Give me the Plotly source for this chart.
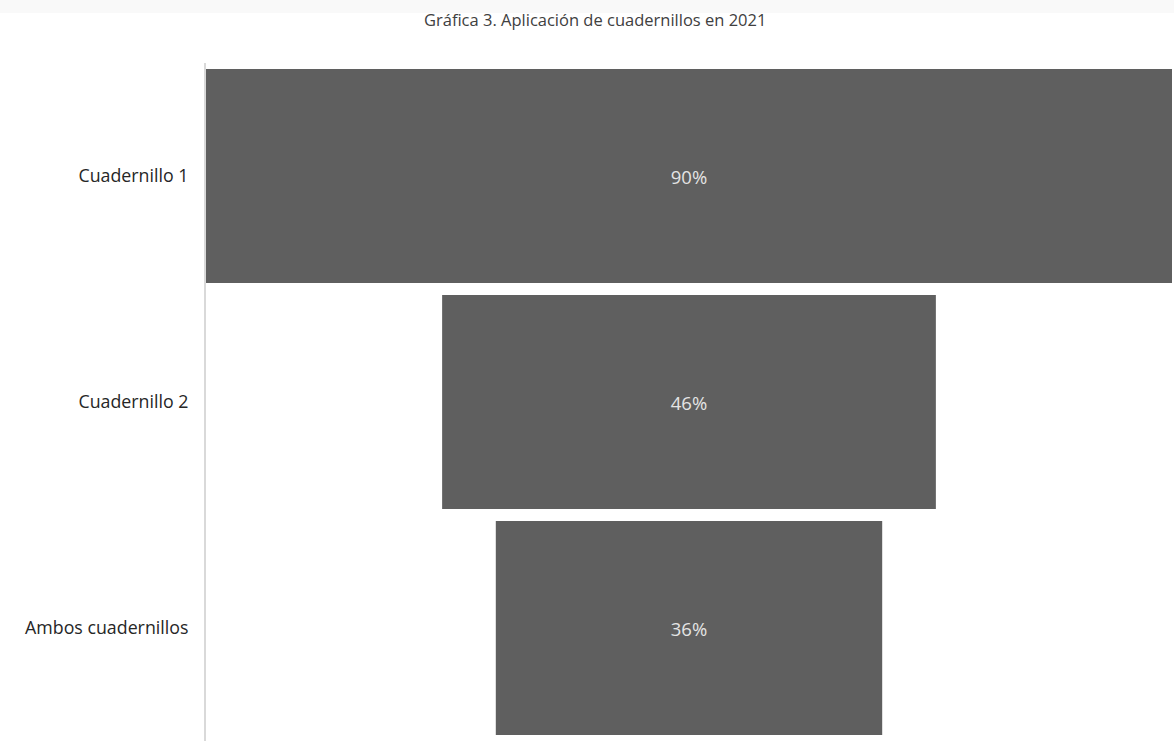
import plotly.graph_objects as go

categorias = ["Cuadernillo 1", "Cuadernillo 2", "Ambos cuadernillos"]
porcentajes = [90, 46, 36]
titulo = "Gráfica 3. Aplicación de cuadernillos en 2021"

fig = go.Figure(go.Funnel(
    y=categorias,
    x=porcentajes,
    texttemplate="%{x}%",
    textposition="inside",
    textfont=dict(color="#e4e4e4", size=18.5, family="Open Sans"),
    marker=dict(color="#5f5f5f", line=dict(width=0)),
    connector=dict(visible=False),
    hoverinfo="y+x",
))

fig.update_layout(
    width=1174, height=749,
    margin=dict(l=206, r=2, t=63, b=8),
    paper_bgcolor="white", plot_bgcolor="white",
    font=dict(family="Open Sans", color="#262626"),
    title=dict(text=titulo, x=0.507, xanchor="center", y=1 - 20 / 749,
               yanchor="middle", xref="container", yref="container",
               font=dict(size=16.5, color="#404040", family="Open Sans")),
    funnelgap=0.053,
    showlegend=False,
    shapes=[dict(type="rect", xref="paper", yref="paper",
                 x0=-206 / 966, x1=1 + 2 / 966,
                 y0=1 + 50 / 678, y1=1 + 63 / 678,
                 fillcolor="#f9f9f9", line=dict(width=0), layer="below")],
)
fig.update_xaxes(visible=False, range=[-45, 45], fixedrange=True)
fig.update_yaxes(showline=True, linecolor="#d9d9d9", linewidth=2,
                 showgrid=False, ticks="", ticklabelstandoff=12,
                 tickfont=dict(size=17.8, color="#262626", family="Open Sans"))

fig.write_html("out.html", config={"displayModeBar": False},
               post_script="document.body.style.margin='0';document.body.style.overflow='hidden';")
